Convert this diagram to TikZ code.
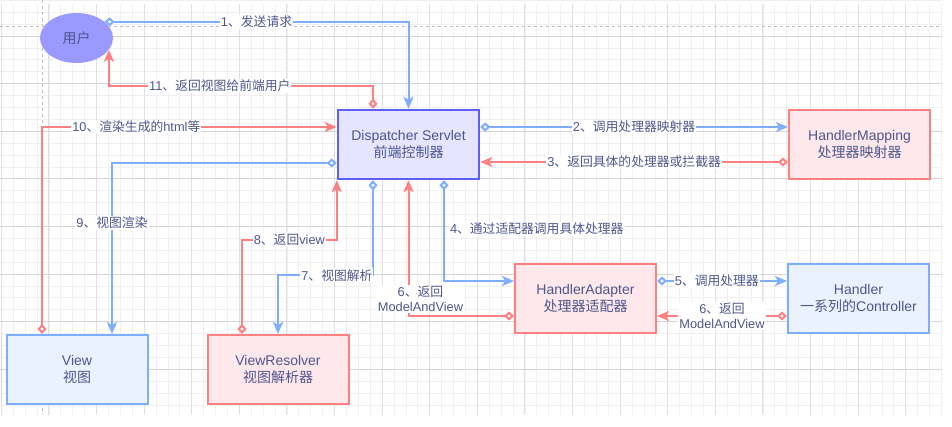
\documentclass[tikz,border=0pt]{standalone}
\usepackage{fontspec}
\setmainfont{Liberation Sans}
\newfontfamily\cjk{Noto Sans CJK SC}
\usepackage{tikz}
\usetikzlibrary{arrows.meta, shapes.geometric}
\usepackage{xcolor}

\definecolor{blueline}{RGB}{127,174,255}
\definecolor{redline}{RGB}{255,128,128}
\definecolor{bluefill}{RGB}{234,242,255}
\definecolor{redfill}{RGB}{255,232,236}
\definecolor{dsline}{RGB}{95,95,255}
\definecolor{dsfill}{RGB}{229,229,255}
\definecolor{userfill}{RGB}{153,153,255}
\definecolor{txt}{RGB}{77,87,140}

\newcommand{\zhtxt}[1]{{\cjk #1}}
\newcommand{\boxfont}{\fontsize{14}{17}\selectfont}
\newcommand{\lblfont}{\fontsize{12.8}{15}\selectfont}

\begin{document}
\begin{tikzpicture}[x=1pt, y=-1pt,
	box/.style={line width=2pt, minimum width=141pt, minimum height=69pt, align=center, font=\boxfont, text=txt},
	redbox/.style={box, draw=redline, fill=redfill},
	bluebox/.style={box, draw=blueline, fill=bluefill},
	flow/.style={line width=2pt, {Diamond[fill=white, length=10pt, width=9pt]}-{Stealth[length=12pt, width=10pt, inset=3pt]}},
	blueflow/.style={flow, draw=blueline},
	redflow/.style={flow, draw=redline},
	lbl/.style={fill=white, font=\lblfont, text=txt, inner sep=1pt, align=center}]
\useasboundingbox (0,0) rectangle (952,427);
\fill[white] (0,0) rectangle (952,427);
% grid
\foreach \i in {0,...,79} \draw[black!6, line width=0.6pt] ({1.2+11.9*\i},4) -- ++(0,411);
\foreach \j in {0,...,34} \draw[black!6, line width=0.6pt] (0,{0.3+11.9*\j}) -- ++(942,0);
\foreach \i in {0,4,...,76} \draw[black!12, line width=0.8pt] ({1.2+11.9*\i},4) -- ++(0,411);
\foreach \j in {3,7,...,31} \draw[black!17, line width=0.8pt] (0,{0.3+11.9*\j}) -- ++(942,0);
\draw[black!25, dash pattern=on 3pt off 3pt] (0,26) -- (942,26);
\draw[black!25, dash pattern=on 3pt off 3pt] (42,0) -- (42,415);

\node[name=user, ellipse, fill=userfill, minimum width=73pt, minimum height=50pt, font=\boxfont, text=txt] at (76.5,38) {\zhtxt{用户}};
\node[name=ds, box, draw=dsline, fill=dsfill, line width=2.5pt] at (408.5,144.5) {Dispatcher Servlet\\\zhtxt{前端控制器}};
\node[name=hm, redbox] at (859.5,144.5) {HandlerMapping\\\zhtxt{处理器映射器}};
\node[name=ha, redbox] at (585.5,298.5) {HandlerAdapter\\\zhtxt{处理器适配器}};
\node[name=hd, bluebox] at (858.5,298.5) {Handler\\\zhtxt{一系列的}Controller};
\node[name=view, bluebox] at (77,369.5) {View\\\zhtxt{视图}};
\node[name=vr, redbox] at (278,369.5) {ViewResolver\\\zhtxt{视图解析器}};

\draw[blueflow] (user.30) -| (ds.north) node[lbl, pos=0.25] {1\zhtxt{、发送请求}};
\draw[blueflow] ([yshift=17.5pt]ds.east) -- ([yshift=17.5pt]hm.west) node[lbl, midway] {2\zhtxt{、调用处理器映射器}};
\draw[redflow] ([yshift=-17.5pt]hm.west) -- ([yshift=-17.5pt]ds.east) node[lbl, midway] {3\zhtxt{、返回具体的处理器或拦截器}};
\draw[blueflow] ([xshift=35.5pt]ds.south) |- ([yshift=17.5pt]ha.west) node[lbl, pos=0.24, anchor=west, xshift=4pt] {4\zhtxt{、通过适配器调用具体处理器}};
\draw[blueflow] ([yshift=17.5pt]ha.east) -- ([yshift=17.5pt]hd.west) node[lbl, pos=0.46] {5\zhtxt{、调用处理器}};
\draw[redflow] ([yshift=-17.5pt]hd.west) -- ([yshift=-17.5pt]ha.east) node[lbl, midway] {6\zhtxt{、返回}\\ModelAndView};
\draw[redflow] ([yshift=-17.5pt]ha.west) -| (ds.south) node[lbl, pos=0.5625, xshift=12pt] {6\zhtxt{、返回}\\ModelAndView};
\draw[blueflow] ([xshift=-35.5pt]ds.south) -- ++(0,95) -| (vr.north) node[lbl, pos=0.19] {7\zhtxt{、视图解析}};
\draw[redflow] ([xshift=-36pt]vr.north) -- ++(0,-94) -| (ds.south west) node[lbl, pos=0.25] {8\zhtxt{、返回}view};
\draw[blueflow] ([yshift=-18.5pt]ds.west) -| ([xshift=35pt]view.north) node[lbl, pos=0.675] {9\zhtxt{、视图渲染}};
\draw[redflow] ([xshift=-35pt]view.north) |- ([yshift=17.5pt]ds.west) node[lbl, pos=0.66] {10\zhtxt{、渲染生成的}html\zhtxt{等}};
\draw[redflow] ([xshift=-35.5pt]ds.north) -- ++(0,-23) -| (user.-20) node[lbl, pos=0.29] {11\zhtxt{、返回视图给前端用户}};
\end{tikzpicture}
\end{document}
